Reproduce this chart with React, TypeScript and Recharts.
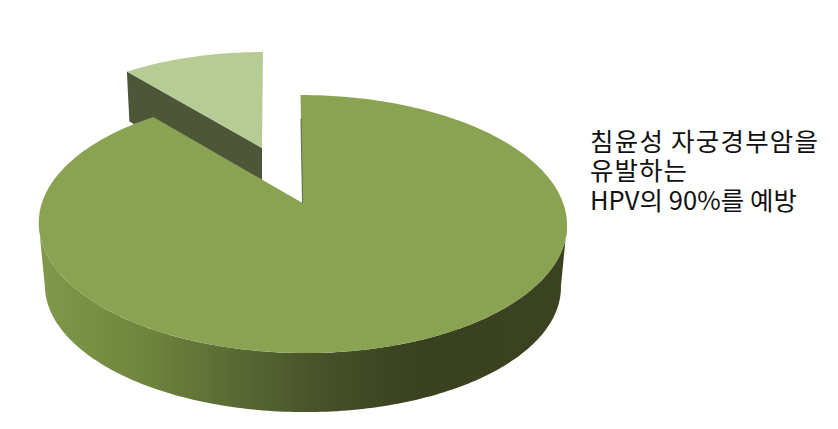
import React from 'react';
import { PieChart, Pie } from 'recharts';

const categories = ['Other', 'HPV 16/18/31/33/45/52/58'];
const shares = [11, 89];
const noteLines = ['침윤성 자궁경부암을', '유발하는', 'HPV의 90%를 예방'];
const noteWidths = [228, 97, 207];

const chartData = categories.map((name, i) => ({ name, value: shares[i] }));

const TILT = 0.163; // perspective foreshortening of the disc
const RAD = Math.PI / 180;

type Look = {
  apexX: number;
  apexY: number;
  spanX: number;
  spanY: number;
  depth: number;
  lean: number;
  top: string;
  side: string;
};

const looks: Look[] = [
  { apexX: 262, apexY: 148, spanX: 240, spanY: 111.6, depth: 50, lean: -0.0104, top: '#b7cc95', side: '#4e5639' },
  { apexX: 302.5, apexY: 203, spanX: 260.6, spanY: 125.6, depth: 62.5, lean: 0.0185, top: '#8aa352', side: 'url(#rimShade)' },
];

const project = (look: Look, deg: number, lower = false) => {
  const u = Math.cos(deg * RAD);
  const v = Math.sin(deg * RAD);
  const s = lower ? 0.977 : 1;
  const y = (-look.spanY * s * v) / (1 + TILT * v);
  const x = (look.spanX * s * u) / (1 + TILT * v) + look.lean * y;
  return [look.apexX + x, look.apexY + y + (lower ? look.depth : 0)];
};

const arc = (look: Look, from: number, to: number, lower = false) => {
  const pts: number[][] = [];
  const steps = Math.max(2, Math.ceil(Math.abs(to - from)));
  for (let i = 0; i <= steps; i++) pts.push(project(look, from + ((to - from) * i) / steps, lower));
  return pts;
};

const toPath = (pts: number[][]) =>
  'M' + pts.map((p) => `${p[0].toFixed(2)},${p[1].toFixed(2)}`).join('L') + 'Z';

// flat Pie sector -> tilted slice with a rim
const TiltedSlice = (props: any) => {
  const { index, startAngle, endAngle } = props;
  const look = looks[index];
  const apex = [look.apexX, look.apexY];
  const topFace = toPath([apex, ...arc(look, startAngle, endAngle)]);

  if (index === 0) {
    const end = project(look, endAngle);
    const cut = toPath([apex, end, [end[0] + 2.5, end[1] + look.depth], [apex[0], apex[1] + look.depth]]);
    return (
      <g>
        <path d={cut} fill={look.side} />
        <path d={topFace} fill={look.top} />
      </g>
    );
  }

  const edge = project(look, endAngle);
  const rim = toPath([...arc(look, 189.4, 350.6), ...arc(look, 350.6, 189.4, true)]);
  return (
    <g>
      <defs>
        <linearGradient id="rimShade" gradientUnits="userSpaceOnUse" x1="38" y1="0" x2="568" y2="0">
          <stop offset="0" stopColor="#80994a" />
          <stop offset="0.2" stopColor="#6f853d" />
          <stop offset="0.4" stopColor="#566532" />
          <stop offset="0.55" stopColor="#454f28" />
          <stop offset="0.72" stopColor="#394120" />
          <stop offset="1" stopColor="#3a4220" />
        </linearGradient>
      </defs>
      <path d={rim} fill={look.side} />
      <path d={topFace} fill={look.top} />
      <line
        x1={apex[0]}
        y1={apex[1]}
        x2={apex[0] + (edge[0] - apex[0]) * 0.78}
        y2={apex[1] + (edge[1] - apex[1]) * 0.78}
        stroke="#3a4220"
        strokeWidth={0.7}
      />
    </g>
  );
};

export default function App() {
  return (
    <div style={{ position: 'absolute', left: 0, top: 0, width: 838, height: 429, background: '#fff' }}>
      <PieChart width={838} height={429} margin={{ top: 0, right: 0, bottom: 0, left: 0 }}>
        <Pie
          data={chartData}
          dataKey="value"
          nameKey="name"
          cx={302}
          cy={203}
          outerRadius={120}
          startAngle={90}
          endAngle={450}
          stroke="none"
          shape={TiltedSlice}
          isAnimationActive={false}
        />
        <text fontFamily="'Noto Sans CJK KR'" fontSize={25.5} fill="#111">
          {noteLines.map((line, i) => (
            <tspan key={line} x={590} y={151 + i * 29.3} textLength={noteWidths[i]} lengthAdjust="spacing">
              {line}
            </tspan>
          ))}
        </text>
      </PieChart>
    </div>
  );
}
